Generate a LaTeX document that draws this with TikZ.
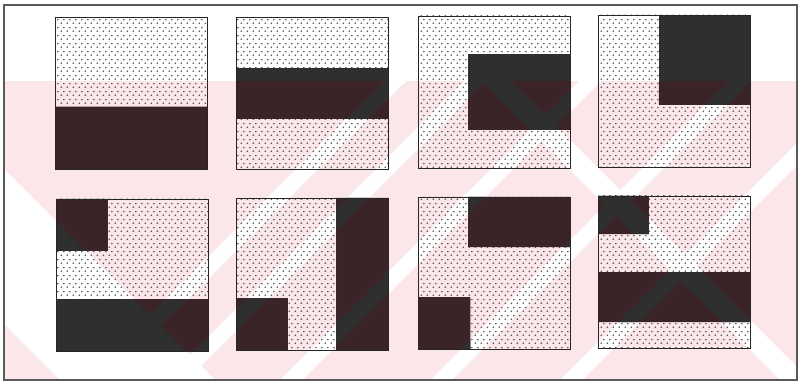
\documentclass[tikz,border=0pt]{standalone}
\usetikzlibrary{patterns.meta}
\definecolor{wmpink}{HTML}{FBE6E9}
\definecolor{inkgray}{HTML}{2F2F30}
\definecolor{inkred}{HTML}{3B2428}
\definecolor{framegray}{HTML}{5A5A5A}

% staggered dot screen of the light parts
\tikzdeclarepattern{
  name=stipple, type=uncolored,
  bottom left={(0pt,0pt)}, top right={(6pt,8pt)}, tile size={(6pt,8pt)},
  code={\fill (1.5pt,2pt) circle (0.95pt); \fill (4.5pt,6pt) circle (0.95pt);}
}

% square corner (px) / dark parts as fractions left/top/right/bottom
\newcommand{\squarelist}{
  55/17/{0/0.59/1/1},
  236/17/{0/0.335/1/0.67},
  418/16/{0.33/0.25/1/0.75},
  598/15/{0.40/0/1/0.59},
  56/199/{0/0/0.34/0.34, 0/0.66/1/1},
  236/198/{0/0.66/0.34/1, 0.66/0/1/1},
  418/197/{0.33/0/1/0.33, 0/0.66/0.345/1},
  598/196/{0/0/0.335/0.25, 0/0.5/1/0.83}}

\newcommand{\watermark}[2]{%
  \fill[#1] (4,81) rectangle (797,380);
  \begin{scope}
    \clip (4,81) rectangle (797,380);
    \foreach \s in {465,545,660,810,940}
      \fill[#2] (\s-81,81) -- (\s-59,81) -- (\s-358,380) -- (\s-380,380) -- cycle;
    \fill[#2] (-239,81) -- (-84,81) -- (215,380) -- (60,380) -- cycle;
    \fill[#2] (481,81) -- (511,81) -- (810,380) -- (780,380) -- cycle;
  \end{scope}}

\begin{document}
\begin{tikzpicture}[x=1pt, y=-1pt,
    tile/.style={draw=black!85, line width=0.9pt},
    dotted part/.style={pattern=stipple, pattern color=black!70}]
  \useasboundingbox (0,0) rectangle (801,385);

  \watermark{wmpink}{white}

  \foreach \sx/\sy/\parts in \squarelist {
    \fill[dotted part] (\sx,\sy) rectangle ++(152,152);
    \foreach \a/\b/\c/\d in \parts
      \fill[inkgray] ({\sx+152*\a},{\sy+152*\b}) rectangle ({\sx+152*\c},{\sy+152*\d});
  }

  % tint of the dark parts
  \begin{scope}
    \clip \foreach \sx/\sy/\parts in \squarelist {
      \foreach \a/\b/\c/\d in \parts {
        ({\sx+152*\a},{\sy+152*\b}) rectangle ({\sx+152*\c},{\sy+152*\d})
      }
    };
    \watermark{inkred}{inkgray}
  \end{scope}

  \foreach \sx/\sy/\parts in \squarelist
    \draw[tile] (\sx,\sy) rectangle ++(152,152);

  \draw[framegray, line width=1.2pt] (4,5) rectangle (797,380);
\end{tikzpicture}
\end{document}
